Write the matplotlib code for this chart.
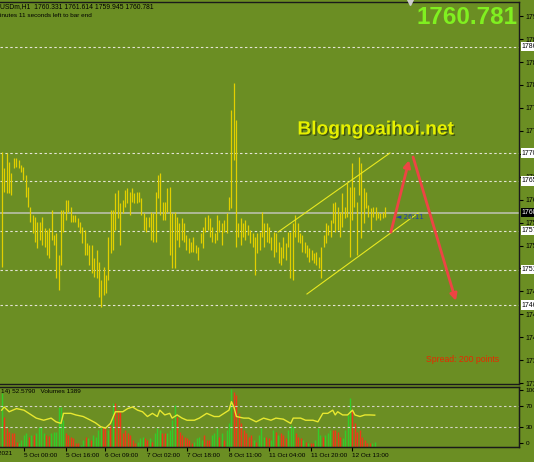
import matplotlib
matplotlib.use('Agg')
import matplotlib.pyplot as plt
import matplotlib.patheffects as pe

plt.rcParams['font.family'] = ['Liberation Sans', 'DejaVu Sans']

# ---------------- data ----------------
high = [1770.3,1767.8,1770.1,1768.7,1767.0,1769.4,1769.4,1769.0,1768.3,1767.9,
        1766.7,1764.8,1761.7,1760.4,1760.1,1759.3,1759.3,1760.1,1758.4,1758.1,
        1758.4,1761.2,1757.3,1757.6,1754.1,1761.2,1761.2,1762.8,1762.8,1761.7,
        1760.4,1760.4,1759.9,1759.3,1758.5,1758.1,1756.0,1755.7,1755.7,1753.7,
        1754.9,1753.0,1750.2,1752.2,1751.0,1757.0,1761.2,1761.2,1763.9,1764.3,
        1762.3,1762.8,1764.3,1764.6,1764.0,1764.6,1763.9,1764.0,1764.0,1763.1,
        1760.7,1760.1,1760.1,1760.9,1760.7,1764.0,1766.7,1767.0,1762.4,1762.4,
        1764.6,1764.8,1760.7,1760.9,1760.1,1759.2,1759.9,1759.2,1757.3,1756.8,
        1756.2,1757.0,1755.7,1755.4,1757.6,1758.5,1760.1,1760.4,1759.9,1758.5,
        1757.6,1760.4,1759.6,1759.2,1759.6,1760.7,1763.2,1776.9,1781.1,1775.3,
        1759.2,1759.9,1759.2,1759.6,1758.8,1758.1,1757.6,1757.0,1757.6,1757.7,
        1760.9,1759.2,1759.2,1758.5,1757.0,1757.7,1757.6,1756.2,1755.4,1757.0,
        1756.0,1757.7,1757.7,1759.2,1760.4,1759.2,1757.6,1757.3,1756.2,1755.7,
        1755.2,1754.9,1754.4,1754.6,1753.8,1755.4,1757.3,1759.2,1758.8,1759.6,
        1762.3,1762.4,1761.7,1760.9,1763.9,1761.7,1765.4,1764.8,1768.6,1764.8,
        1762.4,1769.5,1768.6,1764.6,1764.0,1762.0,1761.5,1761.7,1761.7,1760.9,
        1760.7,1760.9,1761.7]
low = [1752.2,1764.0,1763.9,1763.9,1763.5,1767.8,1767.9,1767.8,1767.1,1765.9,
       1763.2,1761.7,1759.3,1757.6,1756.2,1755.2,1756.5,1755.7,1755.4,1754.1,
       1753.7,1756.5,1755.7,1750.5,1748.6,1752.6,1757.7,1759.6,1760.9,1759.3,
       1759.3,1759.3,1758.5,1757.6,1756.0,1754.1,1754.1,1752.6,1751.3,1750.7,
       1750.5,1747.5,1746.0,1747.8,1748.2,1750.2,1754.4,1754.9,1758.1,1759.9,
       1755.7,1760.7,1761.7,1762.3,1760.4,1762.4,1762.3,1762.3,1762.4,1760.4,
       1758.1,1757.7,1758.5,1756.5,1756.2,1756.2,1763.1,1760.4,1759.6,1759.6,
       1760.9,1754.1,1752.1,1752.1,1756.5,1755.4,1756.5,1756.2,1754.9,1754.4,
       1754.6,1754.6,1754.4,1753.3,1756.0,1755.2,1757.7,1758.1,1757.0,1756.2,
       1756.0,1756.5,1757.7,1755.7,1757.7,1757.6,1761.2,1761.5,1769.0,1755.4,
       1757.0,1755.7,1757.0,1756.5,1757.3,1756.0,1755.4,1751.0,1754.4,1754.9,
       1757.0,1755.4,1756.2,1756.0,1754.9,1753.8,1754.6,1752.9,1752.6,1753.7,
       1753.3,1755.4,1750.5,1750.2,1757.0,1756.2,1756.0,1754.6,1754.4,1753.8,
       1753.0,1753.3,1752.9,1752.6,1752.1,1750.5,1755.4,1756.0,1757.3,1757.0,
       1759.2,1757.7,1758.1,1757.0,1758.5,1759.9,1760.1,1753.8,1759.6,1761.7,
       1754.1,1763.5,1756.8,1759.2,1761.5,1760.1,1758.1,1760.1,1759.6,1759.9,
       1759.6,1759.9,1760.1]

current_price = 1760.781
levels = [1786.78, 1770.12, 1765.73, 1757.90, 1751.80, 1746.26]
price_ticks = [1734.0 + 3.6 * k for k in range(17)]

channel_upper = ([116.8, 164.1], [1757.72, 1770.12])
channel_lower = ([129.0, 176.0], [1747.99, 1760.70])
arrow_up = ((164.5, 1757.7), (172.2, 1769.0))
arrow_down = ((173.9, 1769.5), (192.0, 1746.9))

volumes = [14060,7780,4890,4020,3580,3580,1400,960,1830,3140,
           3580,2710,3140,3140,3580,5330,5330,3580,3140,2880,
           3580,4020,4020,10570,10570,7070,3580,3140,2710,2270,
           960,960,520,1830,2710,2270,1830,3140,2710,4450,
           5330,5330,4890,4450,5760,11440,11440,9690,9260,3580,
           4450,3580,3140,1830,960,1400,2270,2710,2270,1830,
           2270,1400,3580,4890,4450,3580,3580,3580,4450,7070,
           11000,7950,4020,3140,2710,2270,1830,960,1400,2270,
           2710,1830,3140,1830,1830,3140,3580,4890,2710,3580,
           1830,4450,6200,15200,14500,13620,8820,6200,4450,3580,
           2710,3140,1830,1400,3140,4890,2710,2710,2270,1830,
           4450,4020,3140,3580,3140,2270,4450,5760,5330,3580,
           2710,2270,1830,1400,960,960,960,1830,4890,3140,
           2710,3140,3580,4450,4450,4450,4020,2710,2270,4450,
           8380,12750,9690,6200,4020,4450,2710,1830,960,960,
           960,1389]
vol_dir = ("grrrrrrggg" "grgrggggrr" "ggggggrrrr" "rrggrgrggg" "grrgrgrrrr"
           "rrrrrgggrr" "grgggrrggg" "grrrrrrrgg" "ggrrrgggrg" "rgggrrrrrr"
           "rrgrgggrrg" "grgrrrgggr" "rrgrgrrggg" "rgggrrrrgg" "ggrrrrrrrr" "gg")

rsi_bar = [0,1,3,6,9,11,14,17,20,22,24,25,28,30,33,36,38,40,42,44,
           46,49,51,53,55,57,59,61,63,64,66,68,69,71,73,75,78,80,83,86,
           88,90,92,93,94,95,98,100,103,106,109,111,114,117,118,121,123,126,128,130,
           132,134,135,136,138,140,142,143,145,147,149,151]
rsi_val = [62,68,59,65,62,56,47,43,47,40,37,56,56,53,50,43,38,31,28,37,
           59,59,65,68,62,59,50,56,50,62,53,56,47,53,47,43,43,47,56,50,
           50,56,62,78,68,50,47,47,40,47,43,47,45,37,47,47,43,43,40,56,
           56,62,53,59,53,53,62,53,50,53,53,52.58]

date_pos = [9, 26, 42, 59, 75, 92, 108, 125, 142]
date_lbl = ["5 Oct 00:00", "5 Oct 16:00", "6 Oct 09:00", "7 Oct 02:00", "7 Oct 18:00",
            "8 Oct 11:00", "11 Oct 04:00", "11 Oct 20:00", "12 Oct 13:00"]

# ---------------- style ----------------
BG = '#6b8e23'
BAR = '#e2cf00'
W, H = 534, 462
SMALL = 4.6

def fx(px):
    return px / W

def fy(py):
    return 1 - py / H

fig = plt.figure(figsize=(W / 100, H / 100), dpi=100, facecolor=BG)

# ---------------- main chart ----------------
main = fig.add_axes([0, fy(384), fx(519), (384 - 2) / H])
main.set_facecolor(BG)
n = len(high)
main.vlines(range(n), low, high, color=BAR, lw=0.9, zorder=3)
main.set_xlim(-0.85, 218.7)
main.set_ylim(1733.86, 1793.83)

for p in levels:
    main.axhline(p, color='#e4e4d4', lw=0.8, ls=(0, (2.2, 2.2)), zorder=2)
    main.annotate(f"{p:.2f}", xy=(1, p), xycoords=('axes fraction', 'data'),
                  xytext=(2.0, 0), textcoords='offset points', ha='left', va='center',
                  fontsize=5, color='black', annotation_clip=False, zorder=10,
                  bbox=dict(boxstyle='square,pad=0.15', fc='white', ec='none'))
main.axhline(current_price, color='#b4bca0', lw=1.3, zorder=2)
main.annotate(f"{current_price:.2f}", xy=(1, current_price), xycoords=('axes fraction', 'data'),
              xytext=(2.0, 0), textcoords='offset points', ha='left', va='center',
              fontsize=5, color='white', annotation_clip=False, zorder=10,
              bbox=dict(boxstyle='square,pad=0.15', fc='black', ec='none'))

main.plot(*channel_upper, color='#e8e820', lw=0.8, zorder=4)
main.plot(*channel_lower, color='#e8e820', lw=0.8, zorder=4)
for (s, t) in (arrow_up, arrow_down):
    main.annotate('', xy=t, xytext=s,
                  arrowprops=dict(arrowstyle='-|>', color='#ee4444', lw=2.0,
                                  mutation_scale=10, shrinkA=0, shrinkB=0), zorder=6)
main.text(166.6, 1760.1, "\u25c4 26:11", color='#2040b0', fontsize=5,
          va='center', ha='left', zorder=7, family=['DejaVu Sans'])
main.plot([172.6], [1793.83], marker='v', ms=4, color='#d0d0d0', clip_on=False, zorder=8)

main.yaxis.tick_right()
main.set_yticks(price_ticks)
main.set_yticklabels([f"{v:.2f}" for v in price_ticks])
main.tick_params(axis='y', length=3, width=0.8, pad=2, labelsize=5, colors='black')
main.set_xticks([])
main.spines['left'].set_visible(False)
for s in ('top', 'right', 'bottom'):
    main.spines[s].set_color('#1a1a1a')
    main.spines[s].set_linewidth(1.0)

# ---------------- sub window ----------------
sub = fig.add_axes([0, fy(447), fx(519), 60 / H])
sub.set_facecolor(BG)
colors = ['#33cc2a' if c == 'g' else '#f03818' for c in vol_dir]
sub.vlines(range(len(volumes)), 0, volumes, colors=colors, lw=1.0, zorder=2)
sub.set_xlim(-0.69, 209.4)
sub.set_ylim(0, 15720)
sub.set_yticks([])
sub.set_xticks(date_pos)
sub.set_xticklabels(date_lbl, ha='left')
sub.tick_params(axis='x', length=3, width=0.8, pad=1.5, labelsize=SMALL, colors='black')
sub.spines['left'].set_visible(False)
for s in ('top', 'right', 'bottom'):
    sub.spines[s].set_color('#1a1a1a')
    sub.spines[s].set_linewidth(1.0)

rsi = sub.twinx()
rsi.set_xlim(-0.69, 209.4)
rsi.set_ylim(-7.5, 105.7)
rsi.plot(rsi_bar, rsi_val, color='#e8e830', lw=1.0, zorder=4)
for lv in (30, 70):
    rsi.axhline(lv, color='#d4d4c4', lw=0.8, ls=(0, (2.2, 2.2)), zorder=1)
rsi.set_yticks([0, 30, 70, 100])
rsi.set_yticklabels(['0', '30', '70', '100'])
rsi.tick_params(axis='y', length=3, width=0.8, pad=2, labelsize=SMALL, colors='black')
rsi.spines['left'].set_visible(False)
for s in ('top', 'right', 'bottom'):
    rsi.spines[s].set_color('#1a1a1a')

# ---------------- texts ----------------
fig.text(fx(0), fy(6.5), "USDm,H1  1760.331 1761.614 1759.945 1760.781",
         fontsize=4.9, va='center', ha='left', color='black')
fig.text(fx(0), fy(15.5), "inutes 11 seconds left to bar end",
         fontsize=4.6, va='center', ha='left', color='black')
fig.text(fx(1), fy(391.5), "14) 52.5790   Volumes 1389",
         fontsize=SMALL, va='center', ha='left', color='black')
fig.text(fx(12.5), fy(453.5), "4 Oct 2021", fontsize=SMALL, va='center', ha='right', color='black')

fig.text(fx(518), fy(18), "1760.781", ha='right', va='center', fontsize=17.5,
         fontweight='bold', color='#80f020')
fig.text(fx(375.5), fy(130), "Blogngoaihoi.net", ha='center', va='center', fontsize=13.8,
         fontweight='bold', color='#e6f000',
         path_effects=[pe.withSimplePatchShadow(offset=(1, -1), shadow_rgbFace='#2e3c08', alpha=0.7)])
fig.text(fx(426), fy(359), "Spread: 200 points", ha='left', va='center', fontsize=6.2,
         color='#e82800')

fig.savefig('out.png', dpi=100, facecolor=BG)
